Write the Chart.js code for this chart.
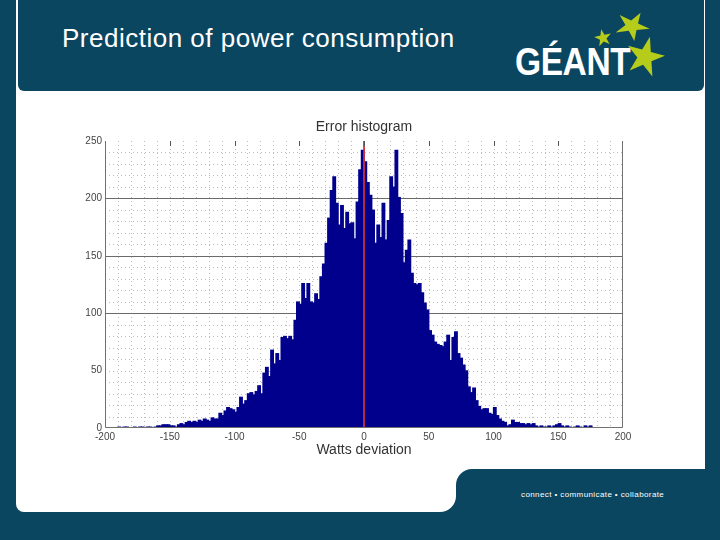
<!DOCTYPE html>
<html><head><meta charset="utf-8">
<script src="https://cdn.jsdelivr.net/npm/chart.js@4.4.1/dist/chart.umd.min.js"></script>
<style>
html,body{margin:0;padding:0;}
body{width:720px;height:540px;background:#0b4660;position:relative;overflow:hidden;font-family:"Liberation Sans",Arial,sans-serif;}
.white1{position:absolute;left:16px;top:0;width:689px;height:486px;background:#fff;border-radius:0 0 8px 8px;}
.white2{position:absolute;left:16px;top:0;width:440px;height:512px;background:#fff;border-radius:0 0 16px 8px;}
.tab{position:absolute;left:456px;top:469px;width:264px;height:71px;background:#0b4660;border-top-left-radius:16px;}
.header{position:absolute;left:18px;top:-10px;width:686px;height:101px;background:#0b4660;border-radius:6px;}
.title{position:absolute;left:62px;top:25px;font-size:26px;line-height:26px;letter-spacing:0.5px;color:#fff;white-space:nowrap;}
.logo{position:absolute;left:515px;top:42px;font-size:39px;line-height:39px;font-weight:bold;color:#fff;transform:scaleX(0.86);transform-origin:left top;white-space:nowrap;letter-spacing:-0.5px;}
.stars{position:absolute;left:580px;top:10px;}
.footer{position:absolute;left:521px;top:490px;font-size:8px;line-height:10px;letter-spacing:0.4px;color:#fff;white-space:nowrap;}
canvas{position:absolute;left:0;top:0;}
</style>
</head><body>
<div class="white1"></div>
<div class="white2"></div>
<div class="tab"></div>
<div class="header"></div>
<div class="title">Prediction of power consumption</div>
<div class="logo">GÉANT</div>
<svg class="stars" width="100" height="75" viewBox="0 0 100 75">
  <polygon id="s1" fill="#b5cc1a"></polygon>
  <polygon id="s2" fill="#b5cc1a"></polygon>
  <polygon id="s3" fill="#b5cc1a"></polygon>
</svg>
<div class="footer">connect • communicate • collaborate</div>
<canvas id="c" width="720" height="540"></canvas>
<script>
// ---- data (2 W bins) ----
const binCenters = [
-189,-187,-185,-183,-181,-179,-177,-175,-173,-171,
-169,-167,-165,-163,-161,-159,-157,-155,-153,-151,
-149,-147,-145,-143,-141,-139,-137,-135,-133,-131,
-129,-127,-125,-123,-121,-119,-117,-115,-113,-111,
-109,-107,-105,-103,-101,-99,-97,-95,-93,-91,
-89,-87,-85,-83,-81,-79,-77,-75,-73,-71,
-69,-67,-65,-63,-61,-59,-57,-55,-53,-51,
-49,-47,-45,-43,-41,-39,-37,-35,-33,-31,
-29,-27,-25,-23,-21,-19,-17,-15,-13,-11,
-9,-7,-5,-3,-1,1,3,5,7,9,
11,13,15,17,19,21,23,25,27,29,
31,33,35,37,39,41,43,45,47,49,
51,53,55,57,59,61,63,65,67,69,
71,73,75,77,79,81,83,85,87,89,
91,93,95,97,99,101,103,105,107,109,
111,113,115,117,119,121,123,125,127,129,
131,133,135,137,139,141,143,145,147,149,
151,153,155,157,159,161,163,165,167,169,
171,173,175,177];
const counts = [
1,0,1,1,0,0,1,0,1,1,
0,1,1,0,1,2,2,3,3,3,
2,2,1,3,4,3,5,6,5,6,
5,7,6,8,7,6,9,8,8,13,
11,15,18,17,16,14,18,27,21,24,
30,31,29,32,37,30,48,53,45,68,
56,65,59,79,80,78,80,77,94,110,
108,126,113,126,110,109,117,112,132,143,
161,183,207,219,196,177,194,174,188,178,
179,165,197,225,242,232,214,203,190,161,
177,166,196,164,181,219,210,242,201,187,
144,155,164,135,126,125,126,118,109,103,
85,81,75,73,72,71,75,81,59,79,
84,65,61,55,50,36,31,35,24,19,
16,17,17,13,12,18,11,8,6,5,
2,3,7,5,5,4,4,3,4,3,
4,2,1,2,1,1,2,1,2,3,
4,2,1,2,1,0,1,2,1,0,
2,1,2,0];
const xTickValues = [-200,-150,-100,-50,0,50,100,150,200];
const yTickValues = [0,50,100,150,200,250];
const chartTitle = 'Error histogram';
const xTitle = 'Watts deviation';

// decorative stars of the logo
function starPts(cx,cy,R,r,rot,sx){
  const p=[];
  for(let i=0;i<10;i++){
    const a=rot+i*Math.PI/5, rad=(i%2===0)?R:r;
    p.push((cx+Math.sin(a)*rad*(sx||1)).toFixed(1)+','+(cy-Math.cos(a)*rad).toFixed(1));
  }
  return p.join(' ');
}
document.getElementById('s1').setAttribute('points',starPts(65,47,21,8,0.25,0.95));
document.getElementById('s2').setAttribute('points',starPts(23,28,9,3.5,-0.2,1));
document.getElementById('s3').setAttribute('points',starPts(52,16,15,5.5,0.5,1.2));

const FONT = '"Liberation Sans", Arial, sans-serif';

const matlabPlugin = {
  id:'matlab',
  beforeDatasetsDraw(chart){
    const {ctx, chartArea:a, scales:{x,y}} = chart;
    ctx.save();
    ctx.lineWidth=1;
    ctx.strokeStyle='#bdbdbd';
    ctx.setLineDash([1,3]);
    ctx.beginPath();
    for(let v=-190; v<200; v+=10){
      const px=Math.round(x.getPixelForValue(v))+0.5;
      ctx.moveTo(px,a.top); ctx.lineTo(px,a.bottom);
    }
    for(let v=10; v<250; v+=10){
      if(v===100||v===150||v===200) continue;
      const py=Math.round(y.getPixelForValue(v))+0.5;
      ctx.moveTo(a.left,py); ctx.lineTo(a.right,py);
    }
    ctx.stroke();
    ctx.setLineDash([]);
    ctx.strokeStyle='#6a6a6a';
    ctx.beginPath();
    [100,150,200].forEach(v=>{
      const py=Math.round(y.getPixelForValue(v))+0.5;
      ctx.moveTo(a.left,py); ctx.lineTo(a.right,py);
    });
    ctx.stroke();
    ctx.restore();
  },
  afterDatasetsDraw(chart){
    const {ctx, chartArea:a, scales:{x,y}} = chart;
    ctx.save();
    const zx=x.getPixelForValue(0);
    ctx.strokeStyle='rgba(205,45,60,0.9)';
    ctx.lineWidth=2;
    ctx.beginPath(); ctx.moveTo(zx,a.top); ctx.lineTo(zx,a.bottom); ctx.stroke();
    ctx.strokeStyle='#707070';
    ctx.lineWidth=1;
    ctx.beginPath();
    const l=Math.round(a.left)+0.5, r=Math.round(a.right)-0.5, b=Math.round(a.bottom)-0.5;
    ctx.moveTo(l,a.top); ctx.lineTo(l,b); ctx.lineTo(r,b); ctx.lineTo(r,a.top);
    ctx.stroke();
    ctx.strokeStyle='#555';
    ctx.beginPath();
    xTickValues.forEach(v=>{
      if(v===-200||v===200) return;
      const px=Math.round(x.getPixelForValue(v))+0.5;
      ctx.moveTo(px,a.top); ctx.lineTo(px,a.top+5);
    });
    ctx.stroke();
    // chart title centred over the plot area
    ctx.fillStyle='#333';
    ctx.font='14px '+FONT;
    ctx.textAlign='center';
    ctx.textBaseline='middle';
    ctx.fillText(chartTitle,(a.left+a.right)/2,a.top-14);
    ctx.restore();
  }
};

new Chart(document.getElementById('c'), {
  type:'bar',
  data:{
    datasets:[{
      data: binCenters.map((c,i)=>({x:c, y:counts[i]})),
      backgroundColor:'#00008c',
      borderWidth:0,
      barThickness:3.2,
      categoryPercentage:1
    }]
  },
  options:{
    responsive:false,
    devicePixelRatio:1,
    animation:false,
    layout:{padding:{left:0,right:97,top:141,bottom:81}},
    plugins:{
      legend:{display:false},
      tooltip:{enabled:false},
      title:{display:false}
    },
    scales:{
      x:{
        type:'linear', min:-200, max:200, offset:false,
        afterFit(s){ s.height=31; },
        afterBuildTicks(s){ s.ticks = xTickValues.map(v=>({value:v})); },
        grid:{display:false, drawTicks:false}, border:{display:false},
        ticks:{color:'#444',padding:3,maxRotation:0,autoSkip:false,
          font:{family:FONT,size:10}},
        title:{display:true,text:xTitle,color:'#333',padding:{top:0,bottom:0},
          font:{family:FONT,size:14}}
      },
      y:{
        min:0, max:250,
        afterFit(s){ s.width=105; },
        afterBuildTicks(s){ s.ticks = yTickValues.map(v=>({value:v})); },
        grid:{display:false, drawTicks:false}, border:{display:false},
        ticks:{color:'#444',padding:3,
          font:{family:FONT,size:10}}
      }
    }
  },
  plugins:[matlabPlugin]
});
</script>
</body></html>
